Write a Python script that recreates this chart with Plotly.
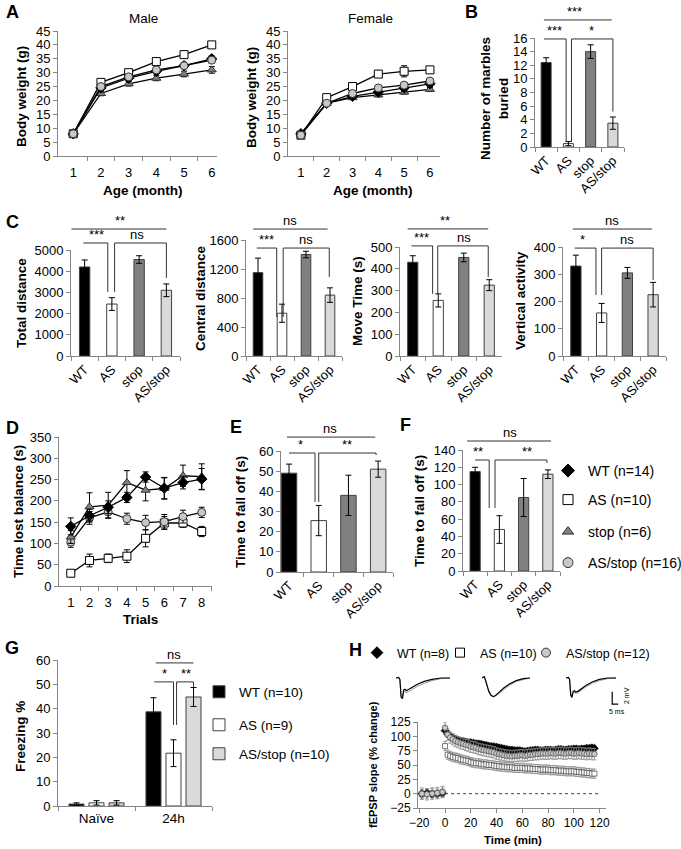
import plotly.graph_objects as go

W, H = 681, 849
FONT = "Liberation Sans, Arial, Helvetica, sans-serif"
AXC = "#868686"
INK = "#333333"

# ---------------- DATA ----------------
# A: body weight
months = [1, 2, 3, 4, 5, 6]
male_wt = [8.0, 24.5, 28.0, 30.5, 32.5, 35.0]
male_wt_err = [0.4, 0.6, 0.6, 0.7, 0.8, 1.0]
male_as = [8.0, 26.5, 30.0, 34.0, 36.5, 40.0]
male_as_err = [0.4, 0.7, 0.7, 0.8, 0.8, 0.8]
male_stop = [8.0, 22.5, 26.0, 28.0, 29.5, 31.0]
male_stop_err = [0.4, 0.8, 0.8, 0.9, 1.0, 1.2]
male_asstop = [8.0, 25.0, 28.5, 31.0, 32.5, 34.5]
male_asstop_err = [0.4, 0.6, 0.6, 0.7, 0.8, 0.9]
female_wt = [8.0, 19.0, 21.5, 23.0, 24.5, 26.0]
female_wt_err = [0.5, 0.5, 0.6, 0.7, 0.8, 1.2]
female_as = [7.5, 21.0, 25.0, 29.5, 30.5, 31.0]
female_as_err = [0.5, 0.6, 0.8, 1.2, 2.0, 1.0]
female_stop = [8.0, 19.0, 21.0, 22.0, 23.0, 24.0]
female_stop_err = [0.5, 0.5, 0.6, 0.7, 0.7, 0.8]
female_asstop = [7.5, 19.0, 22.5, 24.5, 25.5, 27.0]
female_asstop_err = [0.5, 0.5, 0.6, 0.7, 0.7, 0.8]

genotypes = ["WT", "AS", "stop", "AS/stop"]
# B
marbles = [12.4, 0.5, 14.0, 3.5]
marbles_err = [0.7, 0.3, 1.0, 0.9]
# C
total_distance = [4200, 2450, 4550, 3100]
total_distance_err = [330, 300, 180, 300]
central_distance = [1150, 590, 1400, 840]
central_distance_err = [200, 125, 45, 100]
move_time = [430, 255, 452, 325]
move_time_err = [30, 30, 20, 25]
vertical_activity = [330, 158, 305, 225]
vertical_activity_err = [40, 35, 20, 45]
# D
trials = [1, 2, 3, 4, 5, 6, 7, 8]
rot_wt = [140, 165, 185, 208, 256, 230, 243, 251]
rot_wt_err = [20, 15, 15, 12, 12, 25, 15, 25]
rot_as = [30, 60, 65, 70, 112, 148, 148, 128]
rot_as_err = [5, 15, 10, 15, 20, 15, 10, 12]
rot_stop = [115, 186, 190, 243, 225, 229, 259, 257]
rot_stop_err = [15, 33, 30, 28, 25, 25, 25, 30]
rot_asstop = [103, 160, 174, 158, 149, 151, 163, 173]
rot_asstop_err = [12, 15, 15, 13, 17, 17, 15, 12]
# E, F
fall_e = [49, 25.5, 38, 51]
fall_e_err = [4.5, 7.5, 10, 4]
fall_f = [115, 48, 85, 112]
fall_f_err = [5, 16, 22, 5]
# G
conditions = ["Naïve", "24h"]
freeze_wt = [0.8, 38.7]
freeze_wt_err = [0.5, 5.8]
freeze_as = [1.3, 21.7]
freeze_as_err = [0.9, 5.5]
freeze_asstop = [1.3, 44.8]
freeze_asstop_err = [0.9, 3.9]
# H
h_time = [-18, -14, -10, -6, -2,
          0, 2, 4, 6, 8, 10, 12, 14, 16, 18,
          20, 22, 24, 26, 28, 30, 32, 34, 36, 38,
          40, 42, 44, 46, 48, 50, 52, 54, 56, 58,
          60, 62, 64, 66, 68, 70, 72, 74, 76, 78,
          80, 82, 84, 86, 88, 90, 92, 94, 96, 98,
          100, 102, 104, 106, 108, 110, 112, 114, 116]
h_wt = [0, 1, -1, 0, 1,
        110, 104, 100, 97, 95, 93, 92, 91, 90, 89,
        89, 88, 87, 87, 86, 85, 84, 83, 82, 82,
        81, 80, 79, 78, 77, 76, 76, 75, 75, 75,
        74, 73, 74, 75, 75, 76, 76, 75, 75, 76,
        76, 76, 75, 76, 77, 77, 76, 76, 77, 77,
        78, 78, 77, 78, 78, 79, 79, 80, 79]
h_wt_sem = 6
h_as = [-1, 0, 1, 0, 2,
        83, 68, 66, 64, 63, 62, 60, 59, 58, 57,
        55, 54, 53, 53, 52, 51, 51, 50, 50, 49,
        48, 48, 47, 47, 46, 46, 46, 45, 45, 45,
        45, 44, 44, 44, 43, 43, 43, 42, 42, 42,
        42, 41, 41, 41, 40, 40, 40, 39, 39, 39,
        39, 38, 38, 37, 37, 36, 36, 35, 35]
h_as_sem = 8
h_asstop = [0, -1, 0, 1, 3,
            115, 103, 98, 95, 92, 90, 88, 87, 85, 84,
            82, 81, 80, 78, 77, 76, 75, 74, 73, 72,
            70, 69, 68, 67, 66, 66, 65, 66, 66, 67,
            67, 66, 67, 68, 68, 69, 69, 70, 70, 70,
            70, 71, 70, 70, 71, 71, 70, 70, 71, 71,
            70, 70, 71, 70, 70, 69, 70, 69, 69]
h_asstop_sem = 10
# H insets: example fEPSP traces (ms, mV)
trace_ms_a = [0, 2, 3, 4, 5, 6, 7, 8, 10, 13, 17, 22, 28, 35, 42]
wt_trace_post = [0, 0.1, -0.2, -2.9, -3.1, -1.8, -1.7, -1.9, -1.7, -1.3, -0.9, -0.5, -0.2, 0, 0]
wt_trace_base = [0, 0.1, -0.2, -2.7, -2.9, -2.0, -2.1, -2.2, -2.0, -1.6, -1.2, -0.8, -0.4, -0.1, 0]
trace_ms_b = [0, 2, 3, 4, 6, 8, 10, 12, 15, 19, 24, 30, 36, 42]
as_trace_post = [0, 0.2, -0.3, -0.8, -2.0, -2.6, -2.8, -2.6, -2.1, -1.5, -0.9, -0.4, -0.1, 0]
as_trace_base = [0, 0.2, -0.3, -0.9, -2.2, -2.7, -2.8, -2.7, -2.3, -1.7, -1.1, -0.5, -0.2, 0]
asstop_trace_post = [0, 0.1, -0.2, -2.6, -2.9, -2.0, -1.9, -2.1, -2.0, -1.6, -1.1, -0.6, -0.2, 0, 0]
asstop_trace_base = [0, 0.1, -0.2, -2.4, -2.7, -2.1, -2.2, -2.3, -2.2, -1.8, -1.3, -0.8, -0.4, -0.1, 0]
scale_ms = [1, 1, 6]
scale_mv = [2.3, 0.3, 0.3]

# ---------------- STYLE ----------------
STY = {
    "WT": dict(symbol="diamond", color="black", line="black"),
    "AS": dict(symbol="square", color="white", line="black"),
    "stop": dict(symbol="triangle-up", color="#808080", line="#333333"),
    "AS/stop": dict(symbol="circle", color="#c8c8c8", line="#333333"),
}
BAR_COL = {"WT": "black", "AS": "white", "stop": "#808080", "AS/stop": "#d9d9d9"}
TICK = 13

fig = go.Figure()
annotations, shapes, layout_axes, legends = [], [], {}, {}
counter = [0]


def new_axes(xl, xr, yt, yb, xa, ya):
    counter[0] += 1
    i = counter[0]
    sx = "" if i == 1 else str(i)
    xa = dict(xa)
    ya = dict(ya)
    xa.update(domain=[xl / W, xr / W], anchor="y" + sx)
    ya.update(domain=[1 - yb / H, 1 - yt / H], anchor="x" + sx)
    layout_axes["xaxis" + sx] = xa
    layout_axes["yaxis" + sx] = ya
    return "x" + sx, "y" + sx


def ax_base(size=TICK, **kw):
    d = dict(showline=True, linecolor=AXC, linewidth=1, ticks="outside", tickcolor=AXC,
             ticklen=4, tickwidth=1, showgrid=False, zeroline=False, fixedrange=True,
             tickfont=dict(size=size, color="black", family=FONT))
    d.update(kw)
    return d


def yax(rng, dtick, size=TICK):
    return ax_base(size=size, range=rng, dtick=dtick, tick0=0)


def boundary_axis(vals, rng, size=TICK):
    return ax_base(size=size, range=rng, tickmode="array", tickvals=vals,
                   tickcolor="rgba(0,0,0,0)",
                   minor=dict(tickmode="array", tickvals=[v + 0.5 for v in vals],
                              ticks="outside", ticklen=4, tickcolor=AXC, showgrid=False))


def cat_axis(cats, rng=None, angle=-45, size=TICK):
    return ax_base(size=size, type="category", categoryorder="array", categoryarray=cats,
                   tickson="boundaries", tickangle=angle,
                   range=rng if rng else [-0.5, len(cats) - 0.5])


def txt(x, y, s, size=13, bold=False, angle=0):
    annotations.append(dict(x=x / W, y=1 - y / H, xref="paper", yref="paper",
                            text=f"<b>{s}</b>" if bold else s, showarrow=False,
                            font=dict(size=size, family=FONT, color="black"),
                            textangle=angle, xanchor="center", yanchor="middle"))


def add_sig(xr, yr, yrange, specs, size=13):
    lo, hi = yrange
    f = lambda v: (v - lo) / (hi - lo)
    for x0, x1, lvl, d0, d1, label, lx in specs:
        segs = [(x0, lvl, x1, lvl)]
        if d0 is not None:
            segs.append((x0, d0, x0, lvl))
        if d1 is not None:
            segs.append((x1, d1, x1, lvl))
        for a, b, c, d in segs:
            shapes.append(dict(type="line", xref=xr, yref=yr + " domain", x0=a, y0=f(b),
                               x1=c, y1=f(d), line=dict(color=INK, width=1)))
        annotations.append(dict(xref=xr, yref=yr + " domain", x=lx, y=f(lvl), text=label,
                                showarrow=False, xanchor="center", yanchor="bottom", yshift=-1,
                                font=dict(size=size, family=FONT, color="black")))


def line_series(xr, yr, x, series, msize=8):
    for name, ys, errs in series:
        s = STY[name]
        fig.add_trace(go.Scatter(
            x=x, y=ys, xaxis=xr, yaxis=yr, mode="lines+markers",
            line=dict(color="black", width=1.3),
            marker=dict(symbol=s["symbol"], size=msize, color=s["color"],
                        line=dict(color=s["line"], width=1)),
            error_y=dict(type="data", array=errs, color="black", thickness=1, width=3),
            showlegend=False, hoverinfo="skip"))


def bar_series(xr, yr, vals, errs, width):
    fig.add_trace(go.Bar(
        x=genotypes, y=vals, xaxis=xr, yaxis=yr, width=width,
        marker=dict(color=[BAR_COL[g] for g in genotypes], line=dict(color="#404040", width=1)),
        error_y=dict(type="data", array=errs, color="black", thickness=1, width=3),
        showlegend=False, hoverinfo="skip"))


def add_legend(lid, sx, sy, size=13.5):
    legends[lid] = dict(x=(sx - 20) / W, y=1 - sy / H, xanchor="left", yanchor="middle",
                        bgcolor="rgba(0,0,0,0)", borderwidth=0,
                        font=dict(size=size, family=FONT, color="black"),
                        itemclick=False, itemdoubleclick=False)


# ---------------- PANEL A ----------------
xa, ya = new_axes(58, 217, 31, 156, boundary_axis(months, [0.45, 6.19]), yax([0, 45], 5))
line_series(xa, ya, months, [("stop", male_stop, male_stop_err), ("WT", male_wt, male_wt_err),
                             ("AS", male_as, male_as_err), ("AS/stop", male_asstop, male_asstop_err)])
xa, ya = new_axes(288, 440, 31, 156, boundary_axis(months, [0.5, 6.39]), yax([0, 45], 5))
line_series(xa, ya, months, [("stop", female_stop, female_stop_err), ("WT", female_wt, female_wt_err),
                             ("AS", female_as, female_as_err), ("AS/stop", female_asstop, female_asstop_err)])
txt(12, 12, "A", 18, True)
txt(143, 18, "Male", 13.5)
txt(370, 18, "Female", 13.5)
txt(21, 97, "Body weight (g)", 13.5, True, -90)
txt(251, 97, "Body weight (g)", 13.5, True, -90)
txt(142, 190, "Age (month)", 13.5, True)
txt(372, 190, "Age (month)", 13.5, True)

# ---------------- PANEL B ----------------
xa, ya = new_axes(535, 624, 38, 147, cat_axis(genotypes), yax([0, 16], 2))
bar_series(xa, ya, marbles, marbles_err, 0.45)
add_sig(xa, ya, (0, 16), [(-0.1, 2.95, 18.65, None, None, "***", 1.27),
                          (-0.1, 0.9, 15.86, None, 0.73, "***", 0.36),
                          (1.14, 3.0, 15.86, 0.73, 5.2, "*", 2.05)])
txt(472, 12, "B", 18, True)
txt(495, 99, "Number of marbles<br>buried", 13.5, True, -90)

# ---------------- PANEL C ----------------
xa, ya = new_axes(71, 180, 250, 356, cat_axis(genotypes), yax([0, 5000], 1000))
bar_series(xa, ya, total_distance, total_distance_err, 0.38)
add_sig(xa, ya, (0, 5000), [(-0.48, 3.0, 5990, None, None, "**", 1.28),
                            (-0.05, 0.85, 5330, None, 3020, "***", 0.44),
                            (1.1, 3.0, 5330, 3020, 3680, "ns", 1.94)])
xa, ya = new_axes(246, 342, 240, 356, cat_axis(genotypes), yax([0, 1600], 400))
bar_series(xa, ya, central_distance, central_distance_err, 0.4)
add_sig(xa, ya, (0, 1600), [(-0.2, 2.9, 1751, None, None, "ns", 1.33),
                            (-0.05, 0.78, 1489, None, 538, "***", 0.37),
                            (1.05, 2.97, 1489, 538, 1089, "ns", 2.0)])
xa, ya = new_axes(400, 502, 247, 356, cat_axis(genotypes), yax([0, 500], 100))
bar_series(xa, ya, move_time, move_time_err, 0.4)
add_sig(xa, ya, (0, 500), [(-0.2, 2.96, 583, None, None, "**", 1.26),
                           (-0.05, 0.78, 505, None, 285, "***", 0.36),
                           (0.98, 2.96, 505, 285, 362, "ns", 2.0)])
xa, ya = new_axes(563, 666, 247, 356, cat_axis(genotypes), yax([0, 400], 100))
bar_series(xa, ya, vertical_activity, vertical_activity_err, 0.4)
add_sig(xa, ya, (0, 400), [(-0.12, 2.96, 466, None, None, "ns", 1.4),
                           (-0.05, 0.78, 396, None, 224, "*", 0.27),
                           (1.0, 3.0, 396, 224, 279, "ns", 2.0)])
txt(12, 222, "C", 18, True)
txt(21, 303, "Total distance", 13.5, True, -90)
txt(200, 298, "Central distance", 13.5, True, -90)
txt(357, 301, "Move Time (s)", 13.5, True, -90)
txt(520, 301, "Vertical activity", 13.5, True, -90)

# ---------------- PANEL D ----------------
xd, yd = new_axes(59, 212, 437, 586, boundary_axis(trials, [0.37, 8.55]), yax([0, 350], 50))
line_series(xd, yd, trials, [("AS", rot_as, rot_as_err), ("AS/stop", rot_asstop, rot_asstop_err),
                             ("stop", rot_stop, rot_stop_err), ("WT", rot_wt, rot_wt_err)])
txt(12, 428, "D", 18, True)
txt(19, 512, "Time lost balance (s)", 13.5, True, -90)
txt(140, 619, "Trials", 13.5, True)

# ---------------- PANEL E ----------------
xa, ya = new_axes(281, 393, 451, 572, cat_axis(genotypes, rng=[-0.27, 3.5]), yax([0, 60], 10))
bar_series(xa, ya, fall_e, fall_e_err, 0.52)
add_sig(xa, ya, (0, 60), [(-0.07, 2.9, 66.9, None, None, "ns", 1.38),
                          (0, 0.875, 59.0, None, 34.7, "*", 0.37),
                          (1.0, 2.93, 59.0, 34.7, 58.0, "**", 1.95)])
txt(236, 427, "E", 18, True)
txt(241, 512, "Time to fall off (s)", 13.5, True, -90)

# ---------------- PANEL F ----------------
xa, ya = new_axes(463, 560, 450, 571, cat_axis(genotypes), yax([0, 140], 20))
bar_series(xa, ya, fall_f, fall_f_err, 0.42)
add_sig(xa, ya, (0, 140), [(-0.33, 3.13, 150.4, None, None, "ns", 1.44),
                           (0, 0.58, 128.4, None, 72.9, "**", 0.12),
                           (0.82, 2.96, 128.4, 72.9, 125, "**", 2.14)])
txt(405, 425, "F", 18, True)
txt(420, 511, "Time to fall off (s)", 13.5, True, -90)

# legend D-F
leg_names = {"WT": "WT (n=14)", "AS": "AS (n=10)", "stop": "stop (n=6)", "AS/stop": "AS/stop (n=16)"}
leg_y = {"WT": 471, "AS": 500, "stop": 532, "AS/stop": 563}
for i, g in enumerate(genotypes):
    lid = "legend" if i == 0 else f"legend{i + 1}"
    add_legend(lid, 568, leg_y[g], 14)
    s = STY[g]
    fig.add_trace(go.Scatter(x=[None], y=[None], xaxis=xd, yaxis=yd, mode="markers",
                             name=leg_names[g], legend=lid,
                             marker=dict(symbol=s["symbol"], size=10, color=s["color"],
                                         line=dict(color=s["line"], width=1))))

# ---------------- PANEL G ----------------
xg, yg = new_axes(58, 212, 660, 806, cat_axis(conditions, angle=0, size=13.5), yax([0, 60], 10))
g_series = [("WT (n=10)", freeze_wt, freeze_wt_err, "black", -0.3575, "legend5", 692),
            ("AS (n=9)", freeze_as, freeze_as_err, "white", -0.0975, "legend6", 725),
            ("AS/stop (n=10)", freeze_asstop, freeze_asstop_err, "#d9d9d9", 0.1625, "legend7", 754)]
for name, vals, errs, col, off, lid, ly in g_series:
    add_legend(lid, 219, ly, 13.5)
    fig.add_trace(go.Bar(x=conditions, y=vals, xaxis=xg, yaxis=yg, width=0.195, offset=off,
                         name=name, legend=lid,
                         marker=dict(color=col, line=dict(color="#404040", width=1)),
                         error_y=dict(type="data", array=errs, color="black", thickness=1, width=3),
                         hoverinfo="skip"))
add_sig(xg, yg, (0, 60), [(0.77, 1.26, 58.8, None, None, "ns", 1.01),
                          (0.75, 1.0, 51, None, 33.3, "*", 0.88),
                          (1.04, 1.26, 51, 33.3, 48.9, "**", 1.16)])
txt(12, 648, "G", 18, True)
txt(20, 737, "Freezing %", 13.5, True, -90)

# ---------------- PANEL H ----------------
xh, yh = new_axes(418, 606, 722, 808,
                  ax_base(size=12, range=[-21, 125], dtick=20, tick0=0),
                  yax([-25, 125], 25, size=12))
h_series = [("AS", h_as, h_as_sem, 5), ("WT", h_wt, h_wt_sem, 6), ("AS/stop", h_asstop, h_asstop_sem, 5.5)]
for name, ys, sem, ms in h_series:
    s = STY[name]
    fig.add_trace(go.Scatter(x=h_time, y=ys, xaxis=xh, yaxis=yh, mode="markers",
                             marker=dict(symbol=s["symbol"], size=ms, color=s["color"],
                                         line=dict(color="#555555" if name != "WT" else "black", width=0.8)),
                             error_y=dict(type="constant", value=sem, color="#8a8a8a", thickness=0.8, width=2),
                             showlegend=False, hoverinfo="skip"))
shapes.append(dict(type="line", xref=xh, yref=yh, x0=0, x1=120, y0=0, y1=0,
                   line=dict(color="#444444", width=1, dash="dot")))
h_leg = [("WT", "WT (n=8)", 377, "legend8"), ("AS", "AS (n=10)", 460, "legend9"),
         ("AS/stop", "AS/stop (n=12)", 546, "legend10")]
for g, name, lx, lid in h_leg:
    add_legend(lid, lx, 653, 12.5)
    s = STY[g]
    fig.add_trace(go.Scatter(x=[None], y=[None], xaxis=xh, yaxis=yh, mode="markers",
                             name=name, legend=lid,
                             marker=dict(symbol=s["symbol"], size=9, color=s["color"],
                                         line=dict(color=s["line"], width=1))))
# insets with example traces
for (xl, xr_), ms, post, base in [((396, 450), trace_ms_a, wt_trace_post, wt_trace_base),
                                  ((482, 530), trace_ms_b, as_trace_post, as_trace_base),
                                  ((566, 616), trace_ms_a, asstop_trace_post, asstop_trace_base)]:
    xi, yi = new_axes(xl, xr_, 674, 700,
                      dict(visible=False, range=[0, 42], fixedrange=True),
                      dict(visible=False, range=[-3.3, 0.6], fixedrange=True))
    fig.add_trace(go.Scatter(x=ms, y=base, xaxis=xi, yaxis=yi, mode="lines",
                             line=dict(color="#9a9a9a", width=1), showlegend=False, hoverinfo="skip"))
    fig.add_trace(go.Scatter(x=ms, y=post, xaxis=xi, yaxis=yi, mode="lines",
                             line=dict(color="black", width=1.2), showlegend=False, hoverinfo="skip"))
xs, ys_ = new_axes(611, 623, 688, 706,
                   dict(visible=False, range=[0, 10], fixedrange=True),
                   dict(visible=False, range=[0, 2.93], fixedrange=True))
fig.add_trace(go.Scatter(x=scale_ms, y=scale_mv, xaxis=xs, yaxis=ys_, mode="lines",
                         line=dict(color="black", width=1.2), showlegend=False, hoverinfo="skip"))
txt(626, 696, "2 mV", 7, False, -90)
txt(617, 711, "5 ms", 7)
txt(356, 650, "H", 18, True)
txt(373, 765, "fEPSP slope (% change)", 11, True, -90)
txt(513, 840, "Time (min)", 11.5, True)

fig.update_layout(
    width=W, height=H, margin=dict(l=0, r=0, t=0, b=0, autoexpand=False),
    paper_bgcolor="white", plot_bgcolor="rgba(0,0,0,0)",
    font=dict(family=FONT, size=12, color="black"),
    barmode="overlay", showlegend=True, hovermode=False,
    annotations=annotations, shapes=shapes, **layout_axes, **legends)

fig.write_html("out.html", config={"displayModeBar": False, "staticPlot": False},
               post_script="document.body.style.margin='0';")
